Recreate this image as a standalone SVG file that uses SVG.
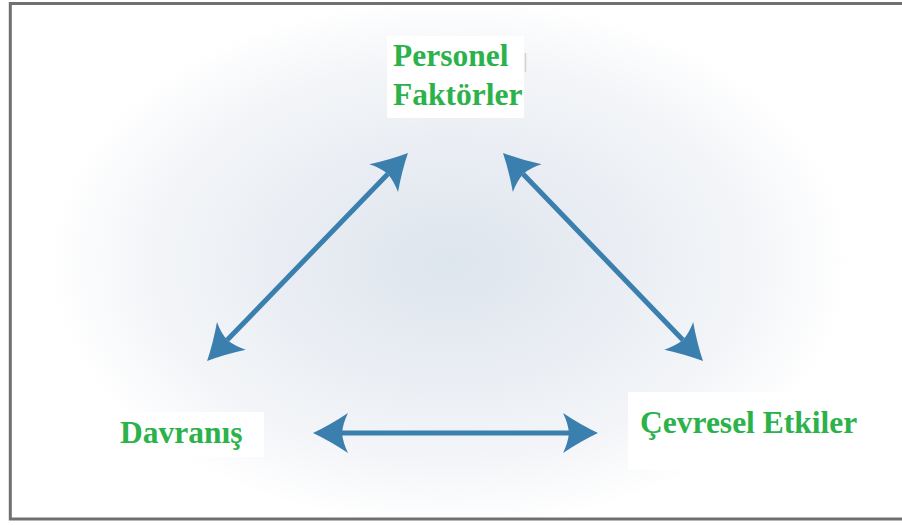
<svg xmlns="http://www.w3.org/2000/svg" width="902" height="525" viewBox="0 0 902 525">
  <defs>
    <radialGradient id="glow" gradientUnits="userSpaceOnUse" cx="0" cy="0" r="1" gradientTransform="translate(450 262) scale(400 265)">
      <stop offset="0" stop-color="#dde5ed"/>
      <stop offset="0.4" stop-color="#e9edf3"/>
      <stop offset="0.75" stop-color="#f3f5f8"/>
      <stop offset="1" stop-color="#ffffff"/>
    </radialGradient>
    <marker id="head" markerUnits="userSpaceOnUse" viewBox="-8 -22 40 44" markerWidth="40" markerHeight="44" refX="0" refY="0" orient="auto-start-reverse">
      <path d="M29,0 Q12,-8 -6,-20 Q-1,-10 0,0 Q-1,10 -6,20 Q12,8 29,0 Z" fill="#3b7fae"/>
    </marker>
    <style>
      .lbl { font-family: "Liberation Serif", "Times New Roman", serif; font-weight: bold; font-size: 31.5px; fill: #2cb24a; }
      .box { fill: #ffffff; }
      .conn { stroke: #3b7fae; stroke-width: 5; fill: none; marker-start: url(#head); marker-end: url(#head); }
    </style>
  </defs>

  <rect x="0" y="0" width="902" height="525" fill="#ffffff"/>
  <rect x="12" y="5" width="890" height="512" fill="url(#glow)"/>
  <path d="M902,3.5 L10.3,3.5 L10.3,519 L902,519" fill="none" stroke="#707070" stroke-width="3"/>

  <g id="node-personel">
    <rect class="box" x="387" y="36" width="137" height="82"/>
    <text class="lbl" x="393" y="66">Personel</text>
    <text class="lbl" x="393" y="105">Faktörler</text>
    <line x1="525.5" y1="53" x2="525.5" y2="72" stroke="#cfd6c4" stroke-width="1.5"/>
  </g>

  <g id="node-davranis">
    <rect class="box" x="112" y="412" width="152" height="45"/>
    <text class="lbl" x="120" y="443">Davranış</text>
  </g>

  <g id="node-cevresel">
    <rect class="box" x="628" y="392" width="252" height="78"/>
    <text class="lbl" x="640" y="433">Çevresel Etkiler</text>
  </g>

  <g id="connectors">
    <path class="conn" d="M387.8,173.9 L227.2,340.1"/>
    <path class="conn" d="M523.1,173.9 L682.9,340.1"/>
    <path class="conn" d="M342,433 L569,433"/>
  </g>
</svg>
